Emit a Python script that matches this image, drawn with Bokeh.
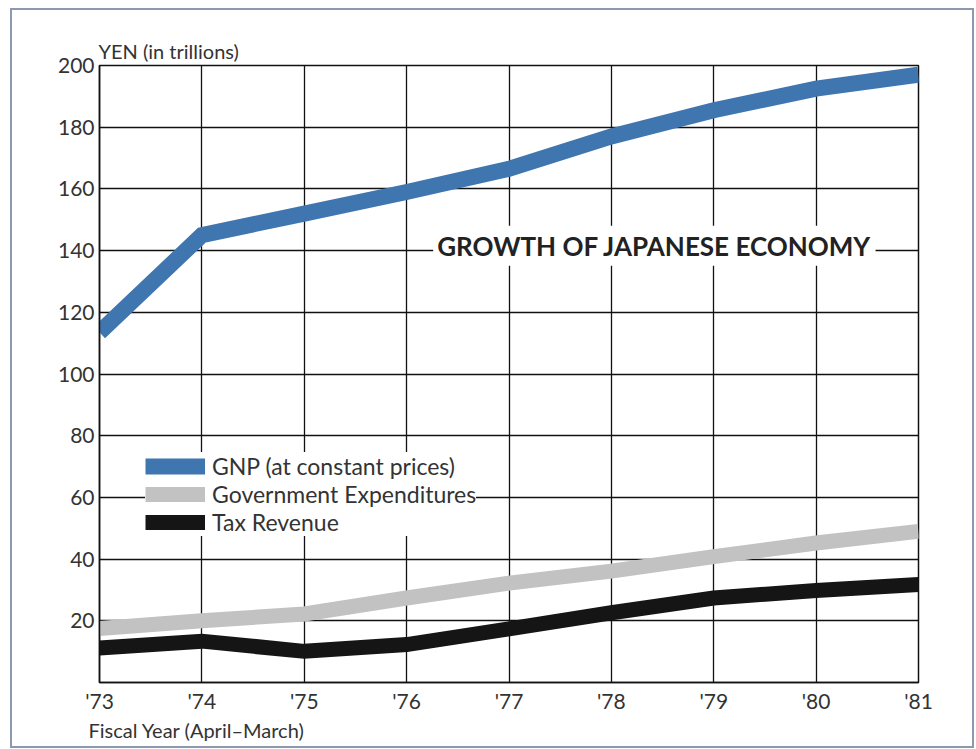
from bokeh.plotting import figure
from bokeh.models import Range1d, FixedTicker, Label, Legend, LegendItem, Title, InlineStyleSheet
from bokeh.embed import file_html
from bokeh.resources import INLINE

# ---- data ----
years = [73, 74, 75, 76, 77, 78, 79, 80, 81]
year_labels = ["'73", "'74", "'75", "'76", "'77", "'78", "'79", "'80", "'81"]
gnp = [113.5, 145, 152, 159, 166.5, 177, 185.5, 192.5, 197]
gov_exp = [17.5, 20, 22.2, 27.4, 32.2, 36.1, 40.8, 45.2, 49]
tax_rev = [11.2, 13.4, 10.1, 12.3, 17.4, 22.6, 27.4, 29.8, 31.8]
y_ticks = [20, 40, 60, 80, 100, 120, 140, 160, 180, 200]
series_names = ["GNP (at constant prices)", "Government Expenditures", "Tax Revenue"]
title_text = "GROWTH OF JAPANESE ECONOMY"
y_title = "YEN (in trillions)"
x_title = "Fiscal Year (April\u2013March)"

FONT = "Lato"

frame_css = InlineStyleSheet(css="""
:host::after {
  content: '';
  position: absolute;
  left: 10px; top: 8px; right: 2px; bottom: 1px;
  border: 2px solid #8c9ab0;
  pointer-events: none;
  z-index: 100;
}
""")

p = figure(width=976, height=749, output_backend="svg", toolbar_location=None,
           x_range=Range1d(73, 81), y_range=Range1d(0, 200))
p.stylesheets = [frame_css]
p.min_border_left = 99
p.min_border_right = 58
p.min_border_top = 65
p.min_border_bottom = 67
p.background_fill_color = "white"
p.border_fill_color = "white"
p.outline_line_color = "#111111"
p.outline_line_width = 1.5

# titles (y title above the frame, x title below the axis)
p.title = Title(text=y_title, align="left", offset=-1, standoff=5,
                text_font=FONT, text_font_size="20px", text_font_style="normal",
                text_color="#333333")
p.add_layout(Title(text=x_title, align="left", offset=-11, standoff=0,
                   text_font=FONT, text_font_size="20px", text_font_style="normal",
                   text_color="#333333"), "below")

# axes
p.xaxis.ticker = FixedTicker(ticks=years)
p.xaxis.major_label_overrides = {y: l for y, l in zip(years, year_labels)}
p.yaxis.ticker = FixedTicker(ticks=y_ticks)
for ax in (p.xaxis[0], p.yaxis[0]):
    ax.axis_line_color = "#111111"
    ax.axis_line_width = 1.5
    ax.major_tick_out = 0
    ax.major_tick_in = 0
    ax.minor_tick_out = 0
    ax.minor_tick_in = 0
    ax.major_label_text_font = FONT
    ax.major_label_text_font_size = "21px"
    ax.major_label_text_color = "#333333"
p.xaxis.major_label_standoff = 5
p.yaxis.major_label_standoff = 5

# grid
p.xgrid.ticker = FixedTicker(ticks=years)
p.ygrid.ticker = FixedTicker(ticks=y_ticks)
for g in (p.xgrid[0], p.ygrid[0]):
    g.grid_line_color = "#111111"
    g.grid_line_width = 1.3
    g.grid_line_alpha = 1.0

# lines
r_gnp = p.line(years, gnp, line_color="#4076af", line_width=16,
               line_cap="butt", line_join="miter")
r_gov = p.line(years, gov_exp, line_color="#c2c2c2", line_width=15,
               line_cap="butt", line_join="miter")
r_tax = p.line(years, tax_rev, line_color="#151515", line_width=15,
               line_cap="butt", line_join="miter")

legend = Legend(items=[LegendItem(label=series_names[0], renderers=[r_gnp]),
                       LegendItem(label=series_names[1], renderers=[r_gov]),
                       LegendItem(label=series_names[2], renderers=[r_tax])],
                location=(46, 146))
legend.background_fill_color = "white"
legend.background_fill_alpha = 1.0
legend.border_line_color = None
legend.label_text_font = FONT
legend.label_text_font_size = "23px"
legend.label_text_color = "#333333"
legend.glyph_width = 60
legend.glyph_height = 20
legend.label_height = 24
legend.spacing = 0
legend.padding = 10
legend.margin = 0
legend.label_standoff = 7
p.add_layout(legend)

# title box
p.add_layout(Label(x=78.42, y=141.6, text=title_text, text_align="center",
                   text_baseline="middle", text_font=FONT, text_font_style="bold",
                   text_font_size="26px", text_color="#222222",
                   background_fill_color="white", background_fill_alpha=1.0,
                   padding=4))

open("out.html", "w").write(file_html(p, INLINE))
